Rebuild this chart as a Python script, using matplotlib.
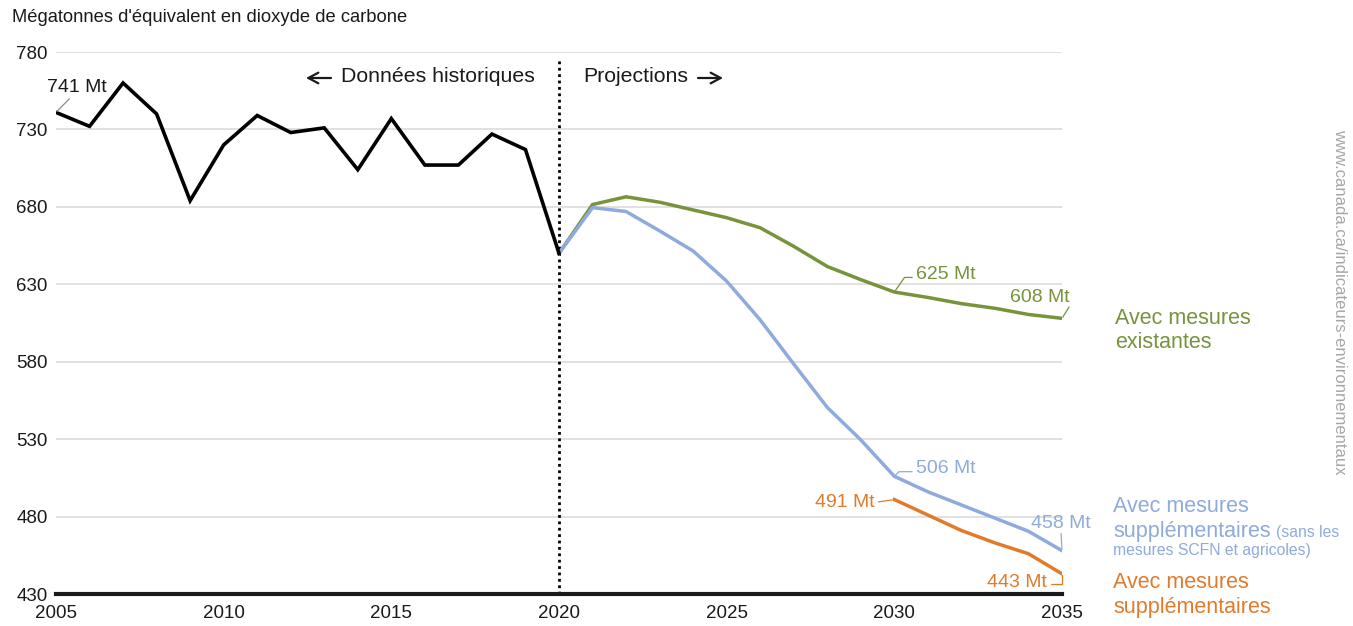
import matplotlib
matplotlib.use("Agg")
import matplotlib.pyplot as plt
import numpy as np

plt.rcParams['font.family'] = ['Liberation Sans', 'DejaVu Sans']

# ---------------- data ----------------
hist_years = list(range(2005, 2021))
hist_values = [741, 732, 760, 740, 684, 720, 739, 728, 731, 704, 737, 707, 707, 727, 717, 650]

proj_years = list(range(2020, 2036))
existing_values = [650, 681.5, 686.5, 683, 678, 673, 666.5, 654.5, 641.5, 633, 625,
                   621.5, 617.5, 614.5, 610.5, 608]
additional_sans_values = [650, 679.5, 677, 664.5, 651.5, 632, 607, 578.5, 550.5, 529.5, 506,
                          496, 487.5, 479, 470.5, 458]
add_years = list(range(2030, 2036))
additional_values = [491, 481, 471, 463, 456, 443]

x_ticks = [2005, 2010, 2015, 2020, 2025, 2030, 2035]
y_ticks = [430, 480, 530, 580, 630, 680, 730, 780]

title = "Mégatonnes d'équivalent en dioxyde de carbone"
hist_label = "Données historiques"
proj_label = "Projections"
watermark = "www.canada.ca/indicateurs-environnementaux"

GREEN = '#77933C'
BLUE = '#8FAADC'
ORANGE = '#E07B2C'
BLACK = '#000000'
TXT = '#1a1a1a'

W, H = 1353, 626
fig = plt.figure(figsize=(W / 100, H / 100), dpi=100)
ax = fig.add_axes([56 / W, 1 - 594 / H, 1006 / W, 542 / H])
ax.set_xlim(2005, 2035)
ax.set_ylim(430, 780)
ax.set_xticks(x_ticks)
ax.set_yticks(y_ticks)
ax.grid(axis='y', color='#D9D9D9', lw=1.1, zorder=0)
ax.grid(axis='x', visible=False)
for s in ['top', 'right', 'left']:
    ax.spines[s].set_visible(False)
ax.spines['bottom'].set_linewidth(3)
ax.spines['bottom'].set_color(TXT)
ax.spines['bottom'].set_zorder(5)
ax.tick_params(axis='both', length=0, labelsize=13.5, colors=TXT)
ax.tick_params(axis='y', pad=6)
ax.tick_params(axis='x', pad=8)

ax.axvline(2020, ymin=0, ymax=0.985, color=BLACK, lw=2.0, ls=(0, (1, 1.3)), zorder=3)

ax.plot(proj_years, existing_values, color=GREEN, lw=2.5, zorder=4, solid_joinstyle='round')
ax.plot(proj_years, additional_sans_values, color=BLUE, lw=2.5, zorder=4, solid_joinstyle='round')
ax.plot(add_years, additional_values, color=ORANGE, lw=2.5, zorder=4, solid_joinstyle='round')
ax.plot(hist_years, hist_values, color=BLACK, lw=2.6, zorder=4, solid_joinstyle='miter')


def label(xv, yv, dx, dy, color, ha='center', relpos=(0.5, 0.5), conn='arc3', lc=None, shA=1, shB=1):
    ax.annotate(f"{round(yv)} Mt", xy=(xv, yv), xytext=(dx, dy), textcoords='offset pixels',
                ha=ha, va='center', fontsize=14, color=color, zorder=6, annotation_clip=False,
                arrowprops=dict(arrowstyle='-', color=lc or color, lw=0.9, relpos=relpos,
                                connectionstyle=conn, shrinkA=shA, shrinkB=shB, patchA=None))


label(hist_years[0], hist_values[0], 21, 25, TXT, relpos=(0.42, 0), lc='#8c8c8c', shA=3, shB=1)
label(2030, existing_values[10], 22, 18, GREEN, ha='left', relpos=(0, 0.3),
      conn='angle,angleA=0,angleB=55,rad=0', shA=3)
label(2035, existing_values[-1], -22, 21, GREEN, relpos=(1.0, 0), shA=1, shB=1)
label(2030, additional_sans_values[10], 22, 8, BLUE, ha='left', relpos=(0, 0.3),
      conn='angle,angleA=0,angleB=45,rad=0', shA=3)
label(2035, additional_sans_values[-1], -1, 27, BLUE, relpos=(0.5, 0), shA=1, shB=1)
label(2030, additional_values[0], -20, -3, ORANGE, ha='right', relpos=(1, 0.5), shA=3, shB=2)
label(2035, additional_values[-1], -15, -9, ORANGE, ha='right', relpos=(1, 0.45),
      conn='angle,angleA=0,angleB=90,rad=0', shA=3, shB=1)


def ftext(x, y, s, **kw):
    return fig.text(x / W, 1 - y / H, s, **kw)


def farrow(x0, x1, y):
    fig.add_artist(matplotlib.patches.FancyArrowPatch(
        (x0 / W, 1 - y / H), (x1 / W, 1 - y / H), transform=fig.transFigure,
        arrowstyle='->,head_length=6,head_width=3.2', lw=1.6, color=TXT,
        shrinkA=0, shrinkB=0, mutation_scale=1.2))


ftext(12, 18, title, fontsize=13.2, va='center', ha='left', color=TXT)
ftext(535, 76, hist_label, fontsize=15.3, va='center', ha='right', color=TXT)
ftext(583, 76, proj_label, fontsize=15.3, va='center', ha='left', color=TXT)
farrow(331, 306, 78)
farrow(698, 723, 78)

big = 15.5
small = 11.3
ftext(1115, 318, "Avec mesures", fontsize=big, color=GREEN, va='center')
ftext(1115, 342, "existantes", fontsize=big, color=GREEN, va='center')

ftext(1113, 506, "Avec mesures", fontsize=big, color=BLUE, va='center')
t = ftext(1113, 531, "supplémentaires", fontsize=big, color=BLUE, va='center')
fig.canvas.draw()
bb = t.get_window_extent(renderer=fig.canvas.get_renderer())
ftext(bb.x1 + 5, 532, "(sans les", fontsize=small, color=BLUE, va='center')
ftext(1113, 551, "mesures SCFN et agricoles)", fontsize=small, color=BLUE, va='center')

ftext(1113, 583, "Avec mesures", fontsize=big, color=ORANGE, va='center')
ftext(1113, 607, "supplémentaires", fontsize=big, color=ORANGE, va='center')

ftext(1340, 302, watermark, fontsize=12, color='#A6A6A6', rotation=-90, va='center', ha='center')

fig.savefig('out.png', dpi=100)
